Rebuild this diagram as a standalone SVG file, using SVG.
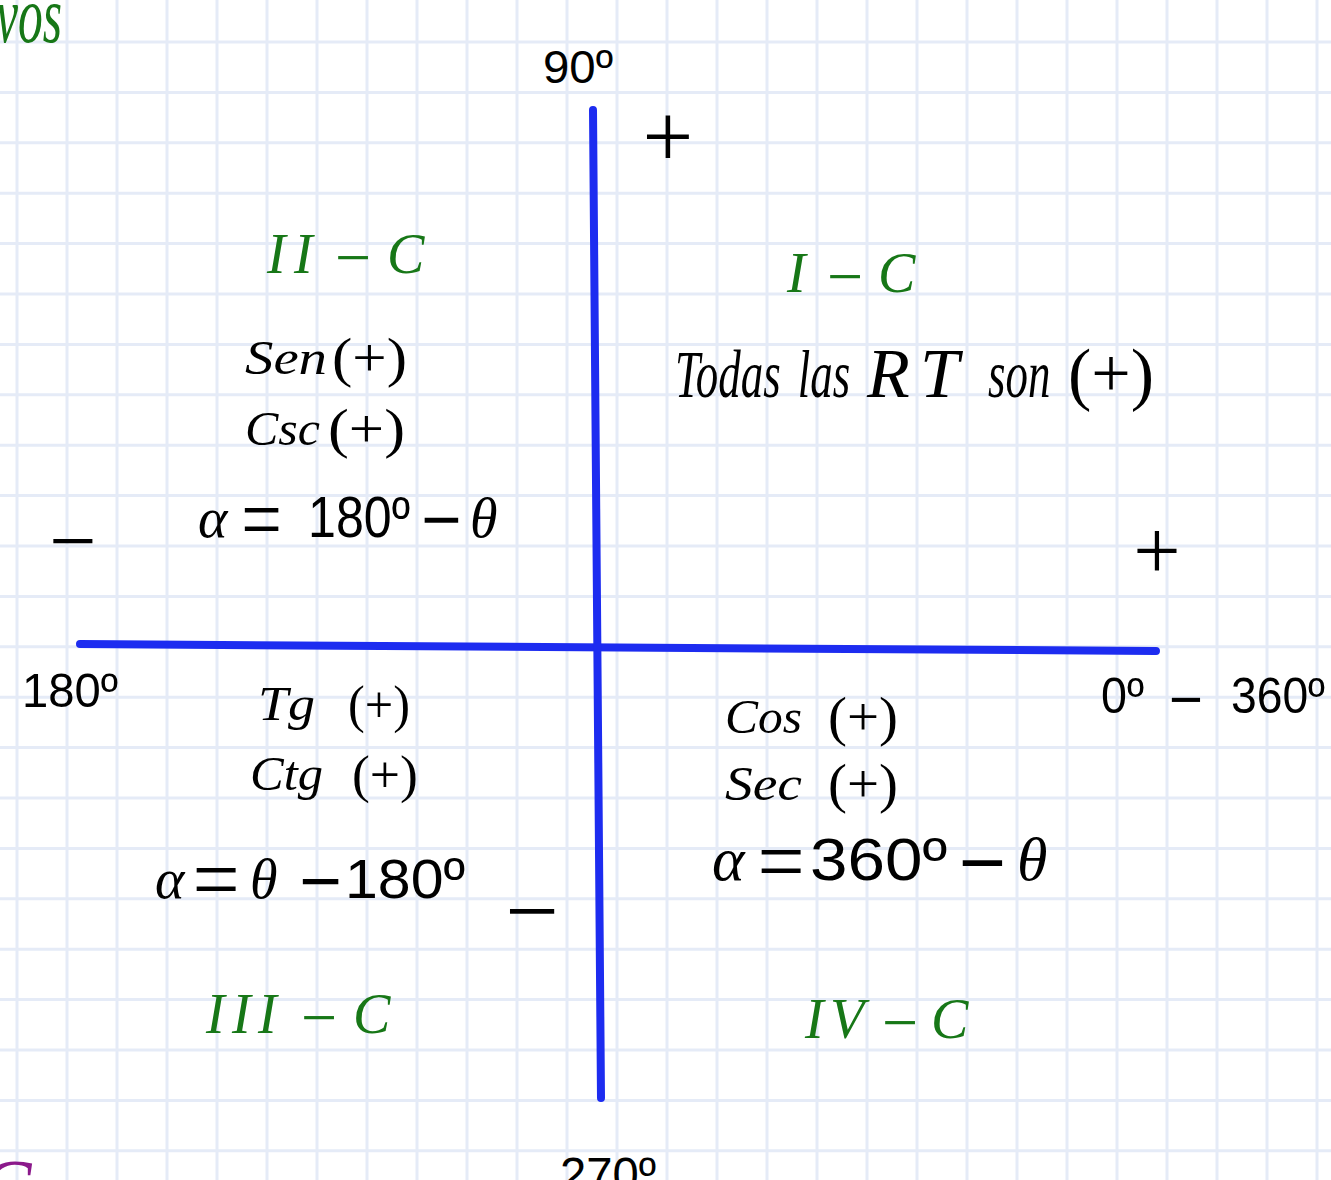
<svg xmlns="http://www.w3.org/2000/svg" width="1331" height="1180" viewBox="0 0 1331 1180">
<style>
.grid{stroke:#e5ebf7;stroke-width:3;fill:none}
.axis{stroke:#1d2cf0;stroke-width:8;stroke-linecap:round;fill:none}
.it{font-family:"Liberation Serif","Times New Roman",serif;font-style:italic;fill:#000}
.up{font-family:"Liberation Serif","Times New Roman",serif;fill:#000}
.sans{font-family:"Liberation Sans",Arial,sans-serif;fill:#000}
.green{fill:#177717}
</style>
<rect width="1331" height="1180" fill="#ffffff"/>
<g id="grid">
<path class="grid" d="M17 0V1180M67 0V1180M117 0V1180M167 0V1180M217 0V1180M267 0V1180M317 0V1180M367 0V1180M417 0V1180M467 0V1180M517 0V1180M567 0V1180M617 0V1180M667 0V1180M717 0V1180M767 0V1180M817 0V1180M867 0V1180M917 0V1180M967 0V1180M1017 0V1180M1067 0V1180M1117 0V1180M1167 0V1180M1217 0V1180M1267 0V1180M1317 0V1180"/>
<path class="grid" d="M0 42H1331M0 92.4H1331M0 142.8H1331M0 193.2H1331M0 243.6H1331M0 294H1331M0 344.4H1331M0 394.8H1331M0 445.2H1331M0 495.6H1331M0 546H1331M0 596.4H1331M0 646.8H1331M0 697.2H1331M0 747.6H1331M0 798H1331M0 848.4H1331M0 898.8H1331M0 949.2H1331M0 999.6H1331M0 1050H1331M0 1100.4H1331M0 1150.8H1331"/>
</g>
<g id="connectors">
<line class="axis" x1="80" y1="644" x2="1156" y2="651"/>
<line class="axis" x1="593" y1="110" x2="601" y2="1098"/>
</g>
<g id="title-fragment"><text class="it green" x="-4" y="42" font-size="80" textLength="66" lengthAdjust="spacingAndGlyphs">vos</text></g>
<g id="bottom-fragment"><text class="it" x="-22" y="1215" font-size="80" style="fill:#8b198b">C</text></g>
<g id="label-90"><text class="sans" x="543" y="83" font-size="46" textLength="70" lengthAdjust="spacingAndGlyphs">90º</text></g>
<g id="label-180"><text class="sans" x="22" y="707" font-size="49" textLength="96" lengthAdjust="spacingAndGlyphs">180º</text></g>
<g id="label-0-360">
<text class="sans" x="1101" y="713" font-size="50" textLength="43" lengthAdjust="spacingAndGlyphs">0º</text>
<text class="sans" x="1186" y="719" font-size="58" text-anchor="middle">−</text>
<text class="sans" x="1231" y="713" font-size="50" textLength="94" lengthAdjust="spacingAndGlyphs">360º</text>
</g>
<g id="label-270"><text class="sans" x="560" y="1191" font-size="48" textLength="96" lengthAdjust="spacingAndGlyphs">270º</text></g>
<g id="signs">
<text class="up" x="668" y="167" font-size="90" text-anchor="middle">+</text>
<text class="up" x="1157" y="579" font-size="84" text-anchor="middle">+</text>
<text class="up" x="73" y="569" font-size="84" text-anchor="middle">−</text>
<text class="up" x="532" y="943" font-size="95" text-anchor="middle">−</text>
</g>
<g id="quadrant-I">
<text class="it green" x="787" y="292" font-size="56">I</text>
<text class="up green" x="845" y="298" font-size="64" text-anchor="middle">−</text>
<text class="it green" x="878" y="292" font-size="56">C</text>
<text class="it" transform="translate(675,397) scale(0.66,1)" font-size="68"><tspan x="0">Todas</tspan><tspan x="186">las</tspan></text>
<text class="it" x="867" y="397" font-size="70" textLength="92" lengthAdjust="spacing">RT</text>
<text class="it" transform="translate(988,397) scale(0.66,1)" font-size="68">son</text>
<text class="up" x="1068" y="397" font-size="70">(+)</text>
</g>
<g id="quadrant-II">
<text class="it green" x="267 294" y="273" font-size="56">II</text>
<text class="up green" x="353" y="279" font-size="64" text-anchor="middle">−</text>
<text class="it green" x="387" y="273" font-size="56">C</text>
<text class="it" x="245" y="374" font-size="49" textLength="82" lengthAdjust="spacingAndGlyphs">Sen</text>
<text class="up" x="332" y="376" font-size="54" textLength="75" lengthAdjust="spacingAndGlyphs">(+)</text>
<text class="it" x="245" y="445" font-size="49" textLength="75" lengthAdjust="spacingAndGlyphs">Csc</text>
<text class="up" x="328" y="447" font-size="54" textLength="77" lengthAdjust="spacingAndGlyphs">(+)</text>
<text class="it" x="198" y="537" font-size="56">α</text>
<text class="up" transform="translate(261.5,550) scale(0.8,1)" font-size="90" text-anchor="middle">=</text>
<text class="sans" x="308" y="537" font-size="57" textLength="102" lengthAdjust="spacingAndGlyphs">180º</text>
<text class="sans" x="441.5" y="543" font-size="69" text-anchor="middle">−</text>
<text class="it" x="470" y="537" font-size="56">θ</text>
</g>
<g id="quadrant-III">
<text class="it" x="258" y="720" font-size="49" textLength="57" lengthAdjust="spacingAndGlyphs">Tg</text>
<text class="up" x="348" y="722" font-size="52" textLength="62" lengthAdjust="spacingAndGlyphs">(+)</text>
<text class="it" x="250" y="790" font-size="49" textLength="73" lengthAdjust="spacingAndGlyphs">Ctg</text>
<text class="up" x="352" y="792" font-size="52" textLength="66" lengthAdjust="spacingAndGlyphs">(+)</text>
<text class="it" x="155" y="898" font-size="56">α</text>
<text class="up" transform="translate(216,910) scale(0.93,1)" font-size="90" text-anchor="middle">=</text>
<text class="it" x="250" y="898" font-size="56">θ</text>
<text class="sans" x="320.5" y="906" font-size="73" text-anchor="middle">−</text>
<text class="sans" x="345" y="898" font-size="56" textLength="120" lengthAdjust="spacingAndGlyphs">180º</text>
<text class="it green" x="206 232 258" y="1033" font-size="56">III</text>
<text class="up green" x="319" y="1039" font-size="64" text-anchor="middle">−</text>
<text class="it green" x="353" y="1033" font-size="56">C</text>
</g>
<g id="quadrant-IV">
<text class="it" x="725" y="733" font-size="49" textLength="77" lengthAdjust="spacingAndGlyphs">Cos</text>
<text class="up" x="828" y="735" font-size="54" textLength="70" lengthAdjust="spacingAndGlyphs">(+)</text>
<text class="it" x="725" y="800" font-size="49" textLength="77" lengthAdjust="spacingAndGlyphs">Sec</text>
<text class="up" x="828" y="802" font-size="54" textLength="70" lengthAdjust="spacingAndGlyphs">(+)</text>
<text class="it" x="712" y="880" font-size="62">α</text>
<text class="up" transform="translate(781,892) scale(0.93,1)" font-size="90" text-anchor="middle">=</text>
<text class="sans" x="810" y="880" font-size="60" textLength="137" lengthAdjust="spacingAndGlyphs">360º</text>
<text class="sans" x="982.5" y="890" font-size="81" text-anchor="middle">−</text>
<text class="it" x="1017" y="880" font-size="62">θ</text>
<text class="it green" x="805 830" y="1038" font-size="56">IV</text>
<text class="up green" x="900" y="1044" font-size="64" text-anchor="middle">−</text>
<text class="it green" x="931" y="1038" font-size="56">C</text>
</g>
</svg>
